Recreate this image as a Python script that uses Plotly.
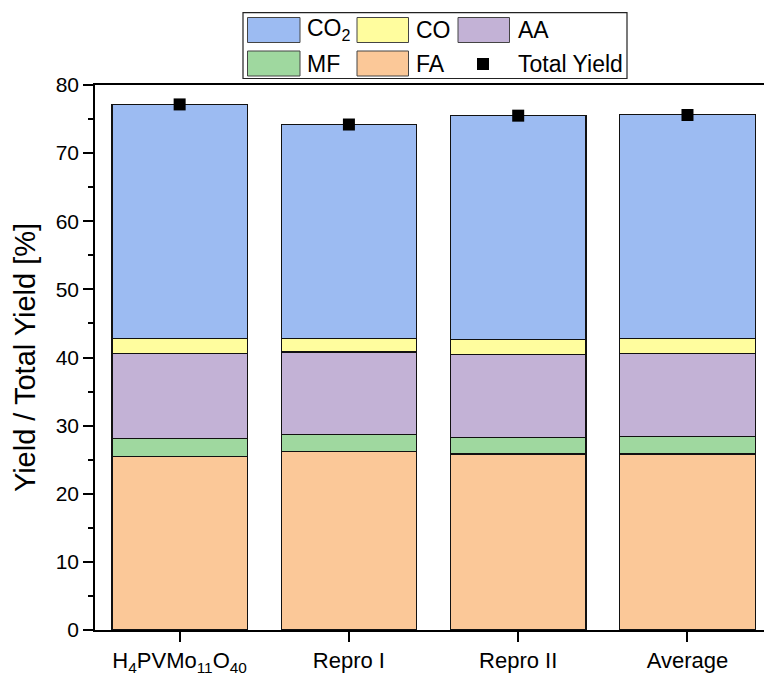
import plotly.graph_objects as go

categories = ["H<sub>4</sub>PVMo<sub>11</sub>O<sub>40</sub>", "Repro I", "Repro II", "Average"]
fa = [25.5, 26.15, 25.85, 25.85]
mf = [2.6, 2.6, 2.4, 2.5]
aa = [12.45, 12.05, 12.2, 12.25]
co = [2.2, 2.0, 2.15, 2.15]
co2 = [34.4, 31.4, 32.9, 32.9]
total_yield = [77.15, 74.2, 75.5, 75.6]

series_names = ["FA", "MF", "AA", "CO", "CO<sub>2</sub>"]
series_values = [fa, mf, aa, co, co2]
series_colors = ["#FBC898", "#9FD89F", "#C3B2D6", "#FFFD9E", "#9CBBF2"]

W, H = 764, 675
ML, MR, MT, MB = 95, 0, 85, 45
FONT = "Arial, Liberation Sans, sans-serif"

x = list(range(len(categories)))
fig = go.Figure()
for name, vals, col in zip(series_names, series_values, series_colors):
    fig.add_trace(go.Bar(x=x, y=vals, name=name, marker=dict(color=col, line=dict(color="#111111", width=1.2)),
                         width=0.8, showlegend=False))
fig.add_trace(go.Scatter(x=x, y=total_yield, mode="markers", name="Total Yield",
                         marker=dict(symbol="square", size=12, color="black"), showlegend=False))

# manual legend (pixel -> paper helpers)
pw = W - ML - MR
ph = H - MT - MB
def px(v):
    return (v - ML) / pw
def py(v):
    return (H - MB - v) / ph

shapes = []
annotations = []
shapes.append(dict(type="rect", xref="paper", yref="paper", x0=px(243), x1=px(627), y0=py(78.5), y1=py(12.7),
                   line=dict(color="#222222", width=1.2), fillcolor="white", layer="above"))
legend_items = [
    ("CO<sub>2</sub>", series_colors[4], 247.5, 300, 17.5, 42.5, 305),
    ("CO", series_colors[3], 357, 408.5, 17.5, 42.5, 413.5),
    ("AA", series_colors[2], 458, 509.5, 17.5, 42.5, 515.5),
    ("MF", series_colors[1], 247.5, 300, 51, 76, 305),
    ("FA", series_colors[0], 357, 408.5, 51, 76, 413.5),
]
LFS = 23
for label, col, x0, x1, y0, y1, tx in legend_items:
    shapes.append(dict(type="rect", xref="paper", yref="paper", x0=px(x0), x1=px(x1), y0=py(y1), y1=py(y0),
                       line=dict(color="#444444", width=1), fillcolor=col, layer="above"))
    annotations.append(dict(xref="paper", yref="paper", x=px(tx), y=py((y0 + y1) / 2), text=label,
                            showarrow=False, xanchor="left", yanchor="middle",
                            font=dict(family=FONT, size=LFS, color="black")))
shapes.append(dict(type="rect", xref="paper", yref="paper", x0=px(477), x1=px(489), y0=py(70), y1=py(58),
                   line=dict(color="black", width=0), fillcolor="black", layer="above"))
annotations.append(dict(xref="paper", yref="paper", x=px(515.5), y=py(63.5), text="Total Yield",
                        showarrow=False, xanchor="left", yanchor="middle",
                        font=dict(family=FONT, size=LFS, color="black")))

fig.update_layout(
    width=W, height=H, barmode="stack", bargap=0.2,
    margin=dict(l=ML, r=MR, t=MT, b=MB, pad=0),
    plot_bgcolor="white", paper_bgcolor="white",
    font=dict(family=FONT, size=22, color="black"),
    shapes=shapes, annotations=annotations,
)
fig.update_xaxes(range=[-0.5, 3.452], tickmode="array", tickvals=x, ticktext=categories,
                 showline=True, linecolor="black", linewidth=1.5, mirror=True,
                 ticks="outside", ticklen=10, tickwidth=1.5, tickcolor="black",
                 showgrid=False, zeroline=False, automargin=False,
                 tickfont=dict(family=FONT, size=22, color="black"))
fig.update_yaxes(range=[0, 80], dtick=10, showline=True, linecolor="black", linewidth=1.5, mirror=False,
                 ticks="outside", ticklen=10, tickwidth=1.5, tickcolor="black",
                 minor=dict(dtick=5, ticks="outside", ticklen=5, tickwidth=1.5, tickcolor="black"),
                 showgrid=False, zeroline=False, automargin=False,
                 tickfont=dict(family=FONT, size=21, color="black"),
                 title=dict(text="Yield / Total Yield [%]", font=dict(family=FONT, size=29, color="black"), standoff=12))

fig.write_html("out.html", config={"displayModeBar": False},
               post_script="document.body.style.margin='0';document.body.style.overflow='hidden';")
